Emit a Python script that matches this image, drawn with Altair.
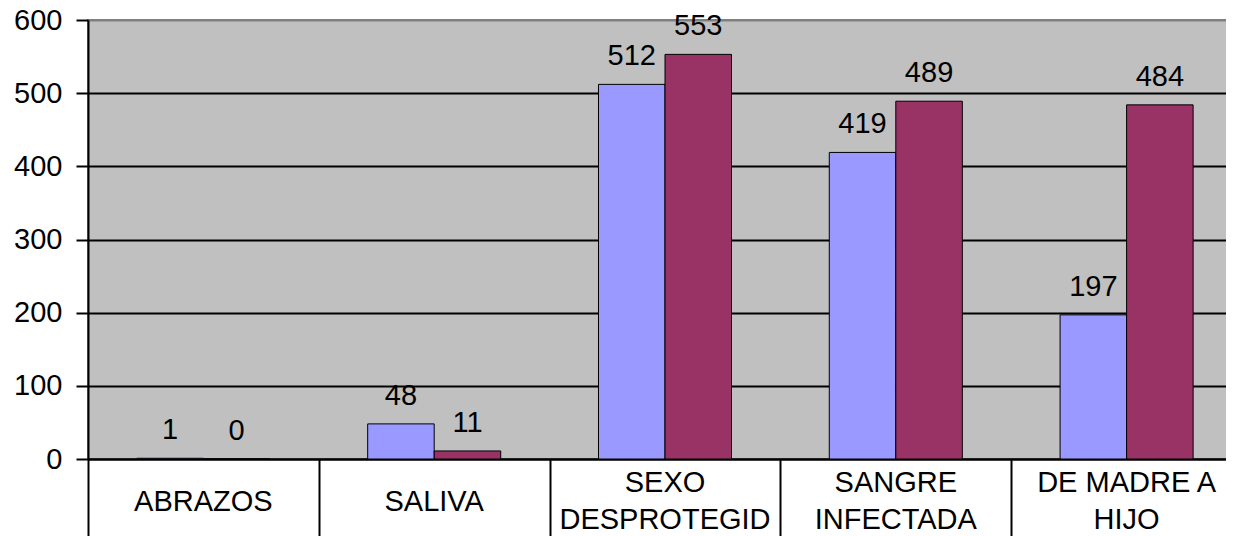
import altair as alt
import pandas as pd

categories = ["ABRAZOS", "SALIVA", "SEXO\nDESPROTEGID", "SANGRE\nINFECTADA", "DE MADRE A\nHIJO"]
series_names = ["Serie 1", "Serie 2"]
values_1 = [1, 48, 512, 419, 197]
values_2 = [0, 11, 553, 489, 484]
y_ticks = [0, 100, 200, 300, 400, 500, 600]
colors = ["#9999FF", "#993366"]

rows = []
for c, a, b in zip(categories, values_1, values_2):
    rows.append({"cat": c, "serie": series_names[0], "value": a})
    rows.append({"cat": c, "serie": series_names[1], "value": b})
df = pd.DataFrame(rows)
cat_df = pd.DataFrame({"cat": categories, "nlines": [c.count("\n") + 1 for c in categories]})

FONT = "Liberation Sans"
FS = 29

x = alt.X(
    "cat:N",
    sort=categories,
    scale=alt.Scale(paddingInner=0, paddingOuter=0),
    axis=alt.Axis(
        title=None,
        labels=False,
        tickBand="extent",
        tickSize=77,
        tickColor="black",
        tickWidth=2,
        domainColor="black",
        domainWidth=2,
        grid=False,
    ),
)
xo = alt.XOffset(
    "serie:N",
    sort=series_names,
    scale=alt.Scale(paddingInner=0, paddingOuter=0.735),
)
y = alt.Y(
    "value:Q",
    scale=alt.Scale(domain=[0, 600], nice=False),
    axis=alt.Axis(
        values=y_ticks,
        title=None,
        grid=True,
        gridColor=alt.condition("datum.value >= 600", alt.value("#808080"), alt.value("black")),
        gridWidth=2,
        tickSize=12,
        tickColor="black",
        tickWidth=2,
        domainColor="black",
        domainWidth=2,
        labelFont=FONT,
        labelFontSize=FS,
        labelColor="black",
        labelPadding=14,
    ),
)
color = alt.Color("serie:N", scale=alt.Scale(domain=series_names, range=colors), legend=None)

base = alt.Chart(df)
bars = base.mark_bar(stroke="black", strokeWidth=1).encode(x=x, xOffset=xo, y=y, color=color)
labels = base.mark_text(
    dy=-19, baseline="alphabetic", fontSize=FS, font=FONT, color="black"
).encode(x=x, xOffset=xo, y=y, text="value:Q")

cat_base = alt.Chart(cat_df)
cat_single = (
    cat_base.transform_filter("datum.nlines == 1")
    .mark_text(baseline="middle", fontSize=FS, font=FONT, color="black")
    .encode(x=alt.X("cat:N", sort=categories), y=alt.value(482), text="cat:N")
)
cat_multi = (
    cat_base.transform_filter("datum.nlines > 1")
    .mark_text(baseline="middle", fontSize=FS, font=FONT, color="black", lineBreak="\n", lineHeight=37)
    .encode(x=alt.X("cat:N", sort=categories), y=alt.value(463), text="cat:N")
)

chart = (
    alt.layer(bars, labels, cat_single, cat_multi)
    .properties(
        width=1154,
        height=439,
        autosize="none",
        padding={"left": 80, "top": 12, "right": -16, "bottom": 77},
    )
    .configure(font=FONT, view=alt.ViewConfig(fill="#C0C0C0", stroke="#808080", strokeWidth=2))
)

chart.save("out.html", embed_options={"renderer": "svg", "actions": False})
